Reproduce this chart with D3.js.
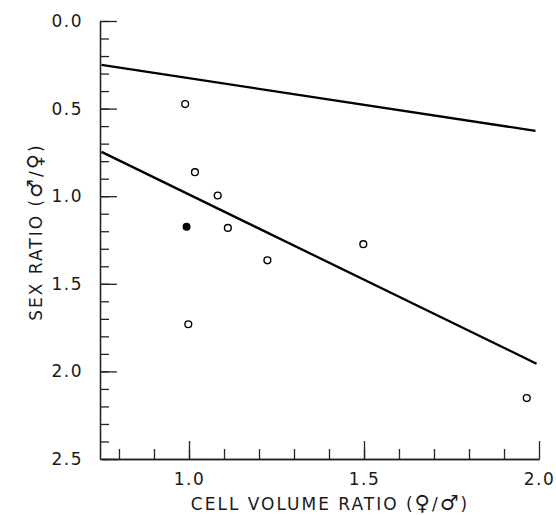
<!DOCTYPE html>
<html>
<head>
<meta charset="utf-8">
<script src="https://cdn.jsdelivr.net/npm/d3@7"></script>
<style>
  body { margin: 0; background: #fff; }
  text { font-family: "DejaVu Sans", sans-serif; fill: #1a1a1a; }
</style>
</head>
<body>
<div id="chart"></div>
<script>
// open circles: cell volume ratio vs sex ratio
var volRatio = [0.989, 1.017, 1.082, 1.111, 1.224, 1.498, 0.998, 1.965];
var sexRatio = [0.474, 0.863, 0.996, 1.181, 1.366, 1.274, 1.731, 2.152];
// the single filled point
var filledVol = [0.993];
var filledSex = [1.175];
// the two fitted lines, end points
var upperLineX = [0.75, 1.99];
var upperLineY = [0.251, 0.627];
var lowerLineX = [0.75, 1.993];
var lowerLineY = [0.747, 1.956];
var xMajorTicks = [1.0, 1.5, 2.0];
var yMajorTicks = [0.0, 0.5, 1.0, 1.5, 2.0, 2.5];

var width = 556, height = 515;

var svg = d3.select("#chart")
  .append("svg")
    .attr("width", width)
    .attr("height", height);

// Set the ranges
var x = d3.scaleLinear().domain([0.75, 2.0]).range([101.5, 539]);
var y = d3.scaleLinear().domain([0, 2.5]).range([21, 459]);

var xMinor = d3.range(8, 20).map(function(d) { return d / 10; });
var yMinor = d3.range(0, 26).map(function(d) { return d / 10; });

// Y axis: minor ticks then major ticks with labels
svg.append("g")
  .attr("transform", "translate(100,0)")
  .call(d3.axisLeft(y).tickValues(yMinor).tickSizeInner(-9).tickSizeOuter(0).tickFormat(""));
svg.append("g")
  .attr("transform", "translate(100,0)")
  .call(d3.axisLeft(y).tickValues(yMajorTicks).tickSizeInner(-17).tickSizeOuter(0)
    .tickPadding(17).tickFormat(d3.format(".1f")));

// X axis
svg.append("g")
  .attr("transform", "translate(0,459)")
  .call(d3.axisBottom(x).tickValues(xMinor).tickSizeInner(-10).tickSizeOuter(0).tickFormat(""));
svg.append("g")
  .attr("transform", "translate(0,459)")
  .call(d3.axisBottom(x).tickValues(xMajorTicks).tickSizeInner(-18).tickSizeOuter(0)
    .tickPadding(14).tickFormat(d3.format(".1f")));

svg.selectAll(".domain, .tick line")
  .attr("stroke", "#222")
  .attr("stroke-width", 1.3);
svg.selectAll(".tick text")
  .style("font-size", "17px")
  .style("letter-spacing", "1.5px");

// fitted lines
var line = d3.line()
  .x(function(d) { return x(d[0]); })
  .y(function(d) { return y(d[1]); });

[[upperLineX, upperLineY], [lowerLineX, lowerLineY]].forEach(function(l) {
  svg.append("path")
    .datum(d3.zip(l[0], l[1]))
    .attr("fill", "none")
    .attr("stroke", "#000")
    .attr("stroke-width", 2.3)
    .attr("d", line);
});

// open dots
svg.selectAll("circle.open")
  .data(d3.zip(volRatio, sexRatio))
  .enter()
  .append("circle")
    .attr("class", "open")
    .attr("cx", function(d) { return x(d[0]); })
    .attr("cy", function(d) { return y(d[1]); })
    .attr("r", 3.4)
    .attr("fill", "#fff")
    .attr("stroke", "#000")
    .attr("stroke-width", 1.4);

// filled dot
svg.selectAll("circle.filled")
  .data(d3.zip(filledVol, filledSex))
  .enter()
  .append("circle")
    .attr("class", "filled")
    .attr("cx", function(d) { return x(d[0]); })
    .attr("cy", function(d) { return y(d[1]); })
    .attr("r", 4)
    .attr("fill", "#000");

// axis titles, with enlarged sex symbols
function title(sel, label, a, b) {
  sel.style("font-size", "17px").style("letter-spacing", "2px");
  sel.append("tspan").text(label + " (");
  sel.append("tspan").style("font-size", "21px").text(a);
  sel.append("tspan").text("/");
  sel.append("tspan").style("font-size", "21px").text(b);
  sel.append("tspan").text(")");
}

svg.append("text")
  .attr("x", 330)
  .attr("y", 510)
  .attr("text-anchor", "middle")
  .call(title, "CELL VOLUME RATIO", "\u2640", "\u2642");

svg.append("text")
  .attr("transform", "translate(42,232) rotate(-90)")
  .attr("text-anchor", "middle")
  .call(title, "SEX RATIO", "\u2642", "\u2640");
</script>
</body>
</html>
